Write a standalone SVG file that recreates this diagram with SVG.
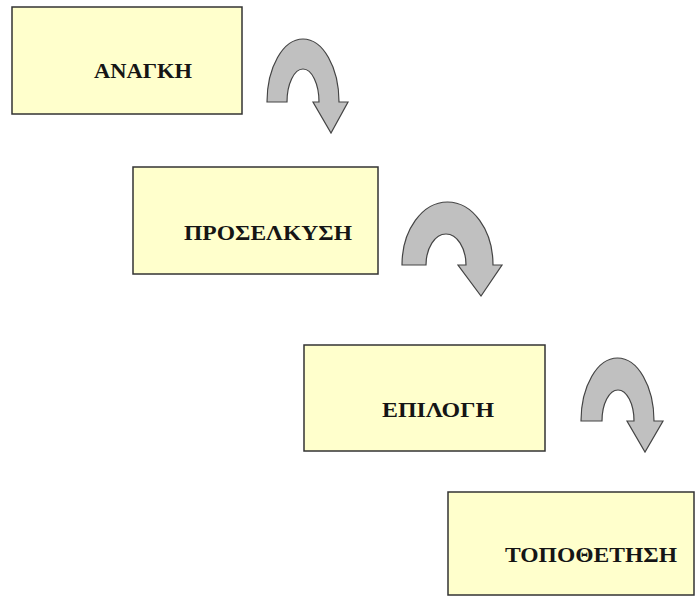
<svg xmlns="http://www.w3.org/2000/svg" width="695" height="597" viewBox="0 0 695 597">
<style>
.box{fill:#FFFFCC;stroke:#333;stroke-width:1.5}
.lbl{font-family:"Liberation Serif","Times New Roman",serif;font-weight:bold;font-size:22px;fill:#151515}
.arr{fill:#C0C0C0;stroke:#444;stroke-width:1.2;stroke-linejoin:miter}
</style>
<rect width="695" height="597" fill="#fff"/>
<g id="node-anagki">
<rect class="box" x="12" y="7" width="230" height="107"/>
<text class="lbl" x="94" y="78" textLength="98" lengthAdjust="spacingAndGlyphs">ΑΝΑΓΚΗ</text>
</g>
<g id="node-proselkysi">
<rect class="box" x="133" y="167" width="245" height="107"/>
<text class="lbl" x="184" y="240" textLength="168" lengthAdjust="spacingAndGlyphs">ΠΡΟΣΕΛΚΥΣΗ</text>
</g>
<g id="node-epilogi">
<rect class="box" x="304" y="345" width="241" height="106"/>
<text class="lbl" x="382" y="417" textLength="112" lengthAdjust="spacingAndGlyphs">ΕΠΙΛΟΓΗ</text>
</g>
<g id="node-topothetisi">
<rect class="box" x="448" y="492" width="246" height="103"/>
<text class="lbl" x="505" y="562" textLength="172" lengthAdjust="spacingAndGlyphs">ΤΟΠΟΘΕΤΗΣΗ</text>
</g>
<g id="connectors">
<path class="arr" d="M267 102 A36 63 0 0 1 339 102 L348 102 L331 133 L313 102 L319 102 A16 33 0 0 0 287 102 Z"/>
<path class="arr" d="M402 265 A45.5 63 0 0 1 493 265 L502 265 L481 296 L458 265 L466 265 A20 31 0 0 0 426 265 Z"/>
<path class="arr" d="M581 421 A36.5 63 0 0 1 654 421 L663 421 L645 452 L627 421 L634 421 A16 31 0 0 0 602 421 Z"/>
</g>
</svg>
